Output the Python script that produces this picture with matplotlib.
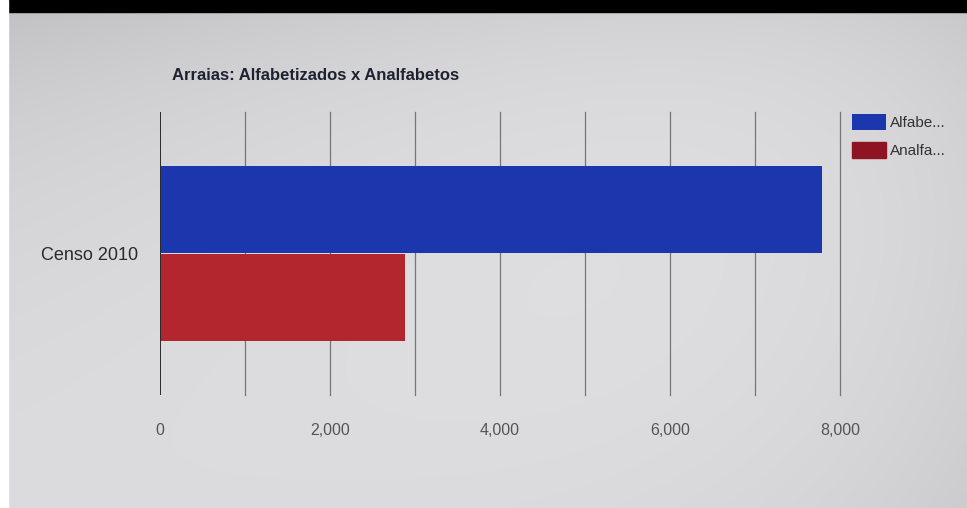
import numpy as np
import matplotlib
matplotlib.use("Agg")
import matplotlib.pyplot as plt
from matplotlib.patches import Rectangle

# chart data
categories = ["Censo 2010"]
series_names = ["Alfabetizados", "Analfabetos"]
legend_labels = ["Alfabe...", "Analfa..."]
alfabetizados = [7790]
analfabetos = [2880]
x_ticks = [0, 2000, 4000, 6000, 8000]
title = "Arraias: Alfabetizados x Analfabetos"

W, H = 967, 508
plt.rcParams["font.family"] = ["Liberation Sans", "DejaVu Sans"]

fig = plt.figure(figsize=(W / 100, H / 100), dpi=100)

# photographed-screen background: soft gray gradient
bg = fig.add_axes([0, 0, 1, 1], zorder=-10)
yy, xx = np.mgrid[0:1:60j, 0:1:120j]
shade = 0.90 - 0.09 * (1 - yy) * (1 - xx) ** 1.5 - 0.06 * xx ** 5 - 0.05 * (1 - yy) ** 6 - 0.03 * yy ** 3
shade = np.clip(shade, 0, 1)
img = np.dstack([shade * 0.99, shade * 0.99, shade * 1.0])
bg.imshow(img, extent=[0, 1, 0, 1], aspect="auto", origin="upper", interpolation="bicubic")
bg.set_xlim(0, 1)
bg.set_ylim(0, 1)
bg.axis("off")
# black top edge and white left edge of the photo
bg.add_patch(Rectangle((8 / W, 1 - 12 / H), 1, 12 / H, color="black", transform=bg.transAxes))
bg.add_patch(Rectangle((0, 0), 8 / W, 1, color="white", transform=bg.transAxes))

ax = fig.add_axes([160 / W, 1 - 395 / H, 680 / W, 283 / H])
ax.set_facecolor("none")

center = 0.5
h = 0.305
ax.barh([center + 0.155], alfabetizados, height=h, color="#1c36ae", label=legend_labels[0], zorder=3)
ax.barh([center - 0.155], analfabetos, height=h, color="#b4262d", label=legend_labels[1], zorder=3)

ax.set_xlim(0, 8000)
ax.set_ylim(0, 1)
for g in range(1000, 8001, 1000):
    ax.axvline(g, color="#74767a", lw=0.9, zorder=1, clip_on=False)
ax.axvline(0, color="#2a2a2a", lw=1.4, zorder=4)

ax.set_xticks(x_ticks)
ax.set_xticklabels([f"{t:,}" for t in x_ticks], fontsize=11.5, color="#555555")
ax.tick_params(axis="x", length=0, pad=20)
ax.set_yticks([center])
ax.set_yticklabels(categories, fontsize=13, color="#2a2a2a")
ax.tick_params(axis="y", length=0, pad=16)
for s in ax.spines.values():
    s.set_visible(False)

fig.text(172 / W, 1 - 75 / H, title, fontsize=12, fontweight="bold",
         color="#1e2230", va="center", ha="left")

leg = ax.legend(loc="upper left", bbox_to_anchor=(852 / W, 1 - 114 / H),
                bbox_transform=fig.transFigure, frameon=False, fontsize=11,
                handlelength=2.2, handleheight=1.2, labelspacing=0.8,
                handletextpad=0.3, borderpad=0, borderaxespad=0)
for t in leg.get_texts():
    t.set_color("#333333")
leg.legend_handles[1].set_color("#8e1424")

fig.savefig("out.png", dpi=100)
